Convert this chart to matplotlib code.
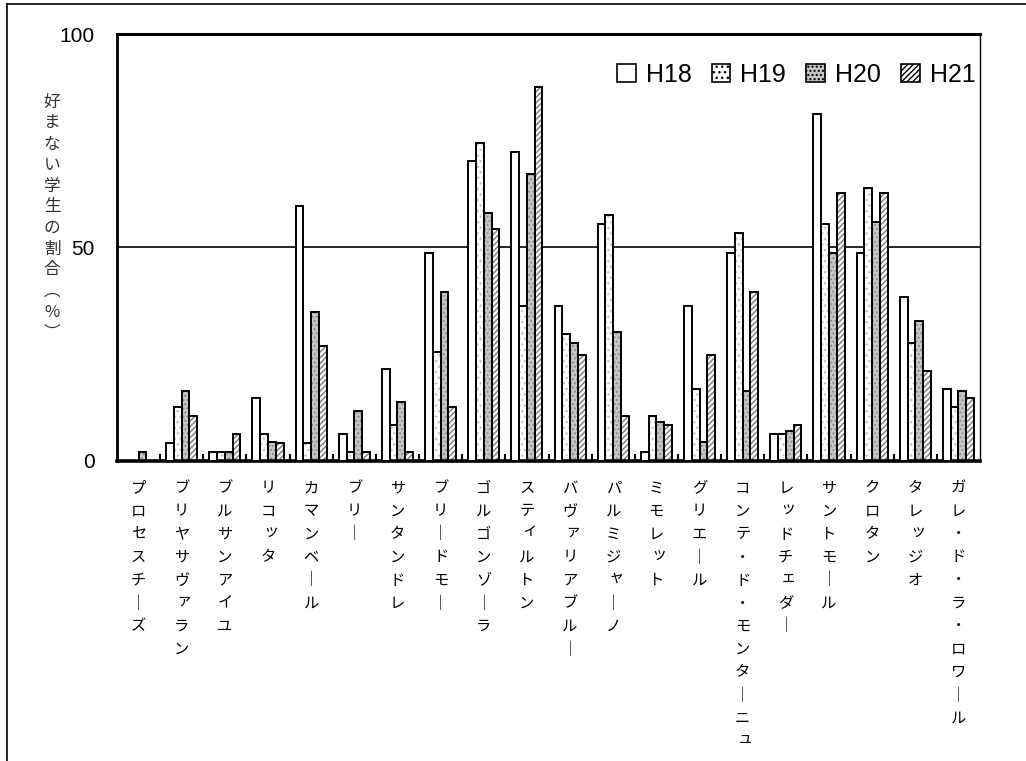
import matplotlib
matplotlib.use("Agg")
import matplotlib.pyplot as plt
from matplotlib.lines import Line2D
from matplotlib.patches import Patch
from matplotlib.transforms import blended_transform_factory
import numpy as np

plt.rcParams["font.family"] = ["Liberation Sans", "Noto Sans CJK JP", "DejaVu Sans"]

# cheese names and share of students who dislike them (%)
cheeses = ["プロセスチーズ", "ブリヤサヴァラン", "ブルサンアイユ", "リコッタ", "カマンベール",
           "ブリー", "サンタンドレ", "ブリードモー", "ゴルゴンゾーラ", "スティルトン",
           "バヴァリアブルー", "パルミジャーノ", "ミモレット", "グリエール",
           "コンテ・ド・モンターニュ", "レッドチェダー", "サントモール", "クロタン",
           "タレッジオ", "ガレ・ド・ラ・ロワール"]
years = ["H18", "H19", "H20", "H21"]
h18 = [0, 4.1, 2, 14.7, 59.8, 6.25, 21.5, 48.8, 70.3, 72.4, 36.25, 55.5, 2.1, 36.25, 48.8, 6.25, 81.2, 48.8, 38.4, 16.8]
h19 = [0, 12.7, 2, 6.25, 4.1, 2, 8.4, 25.5, 74.5, 36.25, 29.8, 57.7, 10.5, 16.8, 53.5, 6.25, 55.5, 63.9, 27.7, 12.7]
h20 = [2, 16.4, 2, 4.5, 34.9, 11.8, 13.8, 39.5, 58.1, 67.3, 27.7, 30.3, 9.2, 4.5, 16.4, 7.0, 48.8, 56.0, 32.8, 16.4]
h21 = [0, 10.5, 6.25, 4.1, 27.0, 2, 2, 12.7, 54.3, 87.6, 24.8, 10.5, 8.4, 24.8, 39.5, 8.4, 62.7, 62.7, 21.0, 14.7]
yticks = [0, 50, 100]
ylabel = "好まない学生の割合︵%︶"

W, H = 1026, 761
fig = plt.figure(figsize=(W / 100, H / 100), dpi=100)
ax = fig.add_axes([117 / W, 1 - 461 / H, 863 / W, 427 / H])

x = np.arange(len(cheeses))
bw = 0.18
offsets = np.array([-1.5, -0.5, 0.5, 1.5]) * bw
# (face, hatch, hatch colour)
styles = [("white", None, None),
          ("white", "...", "#c4c4c4"),
          ("#c6c6c6", "....", "#8e8e8e"),
          ("white", "//////", "#7a7a7a")]
series = [h18, h19, h20, h21]

handles = []
for vals, off, (fc, hatch, hc) in zip(series, offsets, styles):
    if hatch:
        ax.bar(x + off, vals, bw, color=fc, hatch=hatch, edgecolor=hc, linewidth=0, zorder=2)
    ax.bar(x + off, vals, bw, facecolor=fc if not hatch else "none", edgecolor="black",
           linewidth=1.4, zorder=3)
    handles.append(Patch(facecolor=fc, hatch=hatch, edgecolor="black", linewidth=1.2))

ax.set_xlim(-0.5, len(cheeses) - 0.5)
ax.set_ylim(0, 100)
ax.axhline(50, color="black", linewidth=1.2, zorder=1)

ax.set_yticks(yticks)
ax.tick_params(axis="y", length=0, pad=16, labelsize=15)
ax.set_xticks([])
ax.set_xticks(np.arange(len(cheeses) - 1) + 0.5, minor=True)
ax.tick_params(axis="x", which="minor", direction="in", length=5, width=1.5)

for side, lw in [("left", 2.0), ("top", 2.2), ("bottom", 2.6), ("right", 1.0)]:
    ax.spines[side].set_linewidth(lw)

# vertical category labels, one character per line
trans = blended_transform_factory(ax.transData, fig.transFigure)
small = set("ァィゥェォッャュョ")
for i, name in enumerate(cheeses):
    for j, ch in enumerate(name):
        dx = 0.06 if ch in small else 0
        dy = 3 if ch in small else 0
        ch = "｜" if ch == "ー" else ch
        ax.text(i + dx, 1 - (488 + 23 * j - dy) / H, ch, transform=trans,
                ha="center", va="center", fontsize=11, family="Noto Sans CJK JP")

for j, ch in enumerate(ylabel):
    fig.text(52 / W, 1 - (102 + 21 * j) / H, ch, ha="center", va="center",
             fontsize=12, color="#333333", family="Noto Sans CJK JP")

ax.legend(handles, years, loc="center right", bbox_to_anchor=(1.012, 0.904), ncol=4,
          frameon=False, fontsize=18, handlelength=0.75, handleheight=0.75,
          handletextpad=0.4, columnspacing=0.8, borderaxespad=0.2)

# outer frame
fig.add_artist(Line2D([7 / W, 7 / W], [1 - 4 / H, 0], color="black", linewidth=1.2))
fig.add_artist(Line2D([7 / W, 1], [1 - 4 / H, 1 - 4 / H], color="black", linewidth=1.2))

fig.savefig("out.png", dpi=100)
